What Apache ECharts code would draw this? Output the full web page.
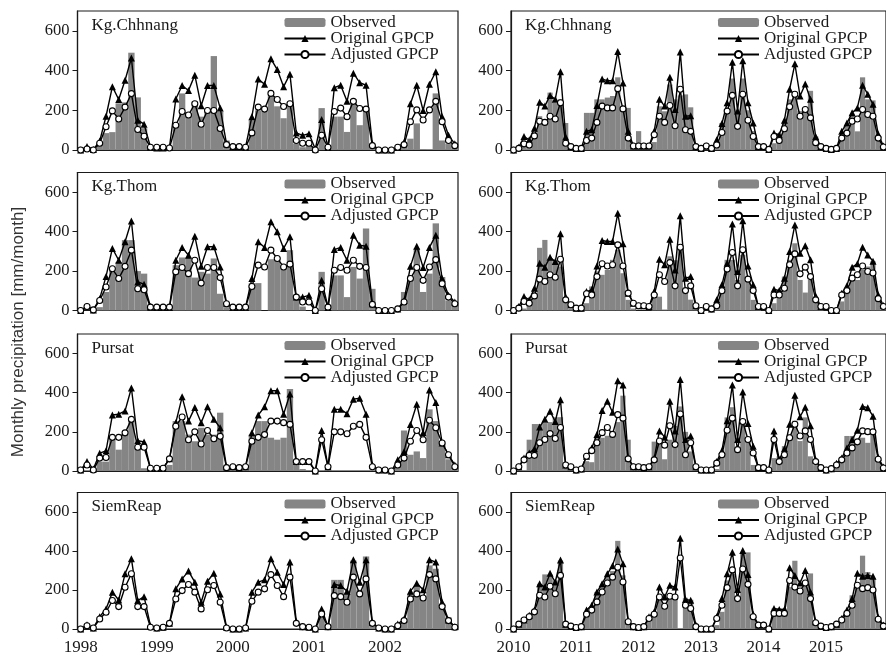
<!DOCTYPE html>
<html>
<head>
<meta charset="utf-8">
<script src="https://cdn.jsdelivr.net/npm/echarts@6/dist/echarts.min.js"></script>
<style>
  html, body { margin: 0; padding: 0; background: #ffffff; }
  #chart { width: 886px; height: 656px; }
</style>
</head>
<body>
<div id="chart"></div>
<script>
// ---- time axes: monthly categories ----
const yearsEarly = [1998, 1999, 2000, 2001, 2002];
const yearsLate = [2010, 2011, 2012, 2013, 2014, 2015];
const monthNumbers = ['01','02','03','04','05','06','07','08','09','10','11','12'];
const monthsEarly = yearsEarly.flatMap(y => monthNumbers.map(m => y + '-' + m));
const monthsLate = yearsLate.flatMap(y => monthNumbers.map(m => y + '-' + m));
const yTickValues = [0, 200, 400, 600];

const stationNames = ['Kg.Chhnang', 'Kg.Thom', 'Pursat', 'SiemReap'];
const seriesNames = ['Observed', 'Original GPCP', 'Adjusted GPCP'];

// ---- Kg.Chhnang (mm/month) ----
const chhnangObsEarly = [
  0, 0, 5, 30, 85, 90, 235, 240, 490, 265, 110, 5,
  0, 0, 5, 134, 285, 188, 245, 168, 194, 473, 194, 48,
  10, 5, 5, 150, 200, 194, 271, 220, 160, 220, 31, 14,
  20, 0, 211, 14, 168, 168, 91, 257, 125, 211, 14, 0,
  0, 0, 5, 20, 57, 134, 5, 0, 285, 48, 30, 10
];
const chhnangOrigEarly = [
  0, 18, 3, 45, 170, 319, 254, 351, 463, 150, 130, 15,
  10, 10, 15, 257, 325, 300, 377, 223, 325, 325, 211, 31,
  17, 17, 14, 168, 357, 331, 459, 405, 319, 382, 86, 74,
  82, 5, 154, 14, 314, 326, 245, 387, 339, 326, 31, 0,
  0, 0, 14, 39, 233, 326, 199, 331, 394, 168, 74, 31
];
const chhnangAdjEarly = [
  0, 5, 0, 34, 117, 197, 156, 216, 284, 103, 69, 14,
  14, 14, 10, 125, 194, 176, 233, 130, 199, 199, 108, 27,
  17, 17, 14, 86, 216, 206, 285, 254, 219, 233, 48, 34,
  34, 0, 74, 14, 194, 211, 168, 245, 209, 206, 22, 0,
  0, 0, 14, 27, 142, 202, 151, 202, 245, 142, 48, 22
];
const chhnangObsLate = [
  0, 0, 17, 34, 85, 170, 128, 289, 238, 255, 136, 17,
  0, 0, 187, 187, 255, 255, 264, 272, 366, 212, 212, 25,
  95, 35, 20, 40, 220, 195, 330, 255, 275, 280, 215, 10,
  0, 0, 0, 10, 136, 200, 360, 190, 360, 200, 95, 10,
  0, 0, 34, 70, 136, 255, 289, 196, 212, 298, 68, 10,
  0, 0, 0, 51, 119, 179, 94, 366, 255, 250, 60, 10
];
const chhnangOrigLate = [
  0, 14, 68, 51, 110, 241, 221, 275, 255, 394, 65, 17,
  8, 8, 94, 102, 224, 357, 349, 349, 496, 337, 94, 20,
  20, 20, 20, 95, 255, 221, 366, 204, 493, 170, 173, 17,
  8, 20, 8, 51, 133, 238, 442, 196, 450, 238, 136, 17,
  17, 3, 85, 77, 150, 306, 434, 272, 332, 255, 68, 17,
  8, 3, 8, 94, 136, 187, 212, 326, 281, 230, 80, 20
];
const chhnangAdjLate = [
  0, 8, 31, 25, 71, 145, 139, 170, 156, 238, 34, 17,
  8, 8, 48, 60, 139, 221, 212, 212, 309, 207, 60, 20,
  20, 20, 20, 77, 170, 139, 224, 122, 306, 102, 94, 17,
  8, 20, 8, 25, 88, 196, 275, 119, 281, 150, 68, 17,
  17, 3, 68, 48, 107, 218, 281, 170, 204, 162, 37, 17,
  8, 3, 8, 60, 85, 145, 156, 204, 179, 170, 60, 15
];

// ---- Kg.Thom ----
const thomObsEarly = [
  0, 0, 0, 17, 94, 204, 246, 357, 357, 200, 187, 0,
  0, 0, 0, 230, 269, 269, 167, 196, 187, 264, 85, 17,
  0, 0, 0, 139, 139, 0, 260, 255, 220, 306, 80, 20,
  0, 0, 196, 0, 178, 178, 68, 221, 162, 416, 110, 0,
  0, 0, 0, 94, 178, 315, 94, 187, 442, 170, 51, 30
];
const thomOrigEarly = [
  0, 22, 3, 60, 173, 315, 255, 349, 454, 145, 133, 20,
  17, 17, 17, 255, 320, 280, 377, 224, 323, 323, 221, 37,
  17, 17, 17, 162, 349, 320, 450, 400, 315, 374, 68, 68,
  77, 0, 153, 17, 309, 320, 255, 382, 331, 326, 34, 0,
  0, 0, 8, 51, 224, 326, 218, 320, 382, 162, 77, 43
];
const thomAdjEarly = [
  0, 20, 3, 51, 119, 212, 162, 224, 306, 110, 105, 17,
  17, 17, 17, 196, 218, 187, 255, 139, 218, 218, 167, 34,
  17, 17, 17, 122, 230, 221, 306, 264, 221, 235, 68, 43,
  43, 0, 110, 17, 204, 218, 204, 255, 224, 218, 31, 0,
  0, 0, 8, 43, 162, 218, 153, 221, 258, 136, 68, 34
];
const thomObsLate = [
  0, 0, 10, 37, 88, 318, 358, 260, 257, 223, 54, 10,
  0, 0, 37, 122, 198, 181, 206, 257, 308, 189, 54, 10,
  0, 0, 0, 70, 70, 5, 275, 255, 315, 90, 55, 10,
  0, 0, 0, 10, 122, 257, 257, 155, 282, 155, 54, 10,
  0, 0, 37, 71, 172, 257, 341, 155, 91, 155, 54, 10,
  0, 0, 0, 46, 96, 164, 155, 206, 223, 250, 50, 10
];
const thomOrigLate = [
  0, 20, 71, 54, 113, 240, 220, 270, 248, 389, 68, 29,
  12, 12, 96, 105, 226, 355, 350, 350, 493, 338, 88, 37,
  24, 24, 20, 96, 260, 232, 362, 206, 480, 164, 172, 24,
  0, 20, 8, 54, 130, 240, 439, 198, 455, 226, 130, 20,
  20, 0, 108, 101, 164, 299, 434, 291, 328, 257, 74, 20,
  20, 0, 0, 88, 125, 220, 237, 321, 282, 250, 80, 25
];
const thomAdjLate = [
  0, 12, 46, 37, 74, 159, 147, 181, 169, 260, 54, 29,
  12, 12, 85, 79, 172, 237, 226, 232, 333, 226, 88, 37,
  24, 24, 20, 79, 181, 147, 243, 125, 321, 101, 125, 24,
  0, 20, 8, 24, 100, 210, 294, 125, 308, 159, 101, 20,
  20, 0, 79, 79, 113, 232, 287, 186, 220, 172, 54, 20,
  20, 0, 0, 79, 101, 164, 181, 226, 198, 190, 60, 20
];

// ---- Pursat (no gauge record for 2001) ----
const pursatObsEarly = [
  0, 0, 0, 48, 48, 169, 109, 186, 255, 117, 14, 0,
  0, 0, 31, 255, 255, 186, 152, 221, 186, 186, 298, 20,
  0, 0, 0, 186, 255, 255, 170, 160, 170, 419, 31, 10,
  null, null, null, null, null, null, null, null, null, null, null, null,
  0, 0, 31, 207, 83, 100, 66, 315, 255, 143, 60, 10
];
const pursatOrigEarly = [
  5, 48, 10, 91, 103, 286, 290, 307, 424, 155, 148, 14,
  14, 14, 62, 247, 379, 255, 324, 247, 328, 264, 221, 22,
  22, 17, 22, 195, 286, 328, 410, 410, 290, 393, 48, 48,
  48, 0, 207, 22, 315, 315, 293, 367, 372, 290, 31, 5,
  5, 0, 57, 100, 238, 341, 195, 414, 350, 143, 83, 31
];
const pursatAdjEarly = [
  5, 31, 5, 66, 69, 172, 172, 195, 264, 121, 121, 14,
  14, 14, 62, 229, 276, 160, 200, 138, 207, 165, 177, 17,
  22, 17, 22, 152, 172, 186, 255, 255, 247, 238, 48, 48,
  48, 0, 160, 22, 200, 200, 190, 229, 238, 172, 22, 5,
  5, 0, 31, 66, 152, 207, 160, 259, 221, 143, 83, 22
];
const pursatObsLate = [
  0, 5, 0, 160, 240, 240, 245, 250, 275, 275, 20, 10,
  0, 0, 50, 45, 170, 170, 180, 200, 250, 385, 160, 10,
  0, 0, 0, 150, 160, 60, 160, 230, 330, 200, 100, 10,
  0, 0, 0, 10, 92, 274, 326, 109, 265, 170, 31, 10,
  0, 0, 66, 75, 127, 187, 257, 153, 274, 75, 30, 10,
  0, 0, 20, 66, 179, 179, 161, 170, 144, 200, 50, 10
];
const pursatOrigLate = [
  0, 22, 66, 92, 114, 225, 265, 305, 253, 364, 31, 22,
  5, 10, 75, 118, 187, 309, 357, 300, 461, 439, 66, 22,
  22, 17, 22, 66, 205, 173, 357, 205, 468, 161, 179, 22,
  5, 5, 5, 48, 104, 257, 439, 161, 404, 243, 127, 17,
  17, 5, 205, 57, 114, 239, 387, 277, 326, 231, 57, 17,
  5, 12, 40, 66, 118, 161, 208, 330, 323, 280, 70, 20
];
const pursatAdjLate = [
  0, 22, 57, 80, 80, 144, 161, 191, 166, 222, 31, 22,
  5, 10, 75, 104, 144, 196, 222, 187, 288, 270, 62, 22,
  22, 17, 22, 57, 153, 132, 231, 135, 291, 83, 144, 22,
  5, 5, 5, 40, 83, 208, 270, 109, 253, 161, 92, 17,
  17, 5, 161, 48, 83, 170, 239, 179, 205, 161, 48, 17,
  5, 12, 31, 57, 92, 118, 149, 205, 201, 200, 60, 15
];

// ---- SiemReap (gauge record starts in 2001) ----
const siemreapObsEarly = [
  null, null, null, null, null, null, null, null, null, null, null, null,
  null, null, null, null, null, null, null, null, null, null, null, null,
  null, null, null, null, null, null, null, null, null, null, null, null,
  0, 0, 94, 17, 252, 252, 180, 351, 201, 372, 26, 0,
  0, 0, 17, 43, 180, 223, 171, 326, 309, 129, 60, 10
];
const siemreapOrigEarly = [
  0, 22, 5, 63, 103, 189, 149, 283, 360, 146, 166, 17,
  5, 9, 29, 206, 257, 297, 240, 137, 245, 286, 180, 9,
  0, 0, 5, 189, 240, 252, 360, 291, 228, 343, 39, 12,
  9, 0, 103, 12, 228, 223, 194, 355, 240, 355, 34, 5,
  0, 0, 26, 51, 194, 235, 201, 355, 343, 137, 46, 12
];
const siemreapAdjEarly = [
  0, 17, 5, 51, 86, 146, 115, 214, 283, 115, 115, 9,
  5, 9, 29, 154, 197, 228, 189, 103, 201, 223, 137, 5,
  0, 0, 5, 142, 189, 206, 279, 223, 166, 266, 29, 12,
  9, 0, 77, 12, 171, 166, 137, 266, 180, 257, 29, 5,
  0, 0, 17, 43, 154, 180, 159, 279, 257, 115, 43, 9
];
const siemreapObsLate = [
  0, 0, 29, 63, 97, 232, 280, 280, 249, 351, 20, 5,
  0, 0, 88, 114, 190, 215, 266, 297, 452, 275, 29, 5,
  0, 0, 37, 71, 156, 122, 173, 164, null, 160, 150, 10,
  0, 0, 0, 20, 88, 249, 283, 164, 393, 393, 63, 10,
  0, 0, 105, 105, 105, 215, 350, 210, 220, 285, 30, 5,
  0, 0, 15, 37, 88, 173, 232, 376, 292, 260, 40, 10
];
const siemreapOrigLate = [
  0, 25, 46, 71, 97, 232, 215, 286, 241, 354, 25, 15,
  8, 12, 97, 122, 190, 232, 283, 325, 410, 334, 42, 12,
  8, 12, 63, 88, 215, 164, 224, 215, 466, 151, 147, 20,
  0, 0, 0, 63, 156, 283, 393, 202, 402, 280, 76, 20,
  20, 0, 105, 100, 100, 314, 275, 236, 300, 190, 37, 15,
  8, 12, 25, 54, 97, 156, 286, 270, 275, 270, 60, 20
];
const siemreapAdjLate = [
  0, 25, 46, 63, 88, 173, 164, 219, 181, 275, 25, 15,
  8, 12, 76, 97, 139, 190, 236, 266, 317, 241, 37, 12,
  8, 12, 54, 76, 164, 117, 168, 164, 364, 122, 105, 12,
  0, 0, 0, 54, 122, 212, 303, 156, 308, 229, 63, 20,
  20, 0, 80, 80, 80, 249, 215, 195, 236, 156, 32, 15,
  8, 12, 25, 46, 80, 122, 224, 207, 212, 200, 50, 15
];

// ---- panel layout ----
const serifFont = '"Liberation Serif", "Times New Roman", serif';
const inkColor = '#1a1a1a';
const rowTop = [11, 172.5, 334, 492.5];
const rowHeight = [139, 138, 137, 138];
const columns = [
  { left: 77.5, right: 428, months: monthsEarly },
  { left: 511, right: -17, months: monthsLate }
];

const panels = [
  { row: 0, col: 0, obs: chhnangObsEarly, orig: chhnangOrigEarly, adj: chhnangAdjEarly },
  { row: 0, col: 1, obs: chhnangObsLate, orig: chhnangOrigLate, adj: chhnangAdjLate },
  { row: 1, col: 0, obs: thomObsEarly, orig: thomOrigEarly, adj: thomAdjEarly },
  { row: 1, col: 1, obs: thomObsLate, orig: thomOrigLate, adj: thomAdjLate },
  { row: 2, col: 0, obs: pursatObsEarly, orig: pursatOrigEarly, adj: pursatAdjEarly },
  { row: 2, col: 1, obs: pursatObsLate, orig: pursatOrigLate, adj: pursatAdjLate },
  { row: 3, col: 0, obs: siemreapObsEarly, orig: siemreapOrigEarly, adj: siemreapAdjEarly },
  { row: 3, col: 1, obs: siemreapObsLate, orig: siemreapOrigLate, adj: siemreapAdjLate }
];

const grid = [], xAxis = [], yAxis = [], series = [], legend = [], title = [];

panels.forEach((p, i) => {
  const col = columns[p.col];
  const isBottom = p.row === 3;
  grid.push({
    left: col.left, right: col.right, top: rowTop[p.row], height: rowHeight[p.row],
    show: true, borderColor: inkColor, borderWidth: 1.2, backgroundColor: 'transparent'
  });
  xAxis.push({
    type: 'category', gridIndex: i, data: col.months, boundaryGap: true,
    axisLine: { show: true, lineStyle: { color: inkColor, width: 1.2 } },
    axisTick: { show: false },
    splitLine: { show: false },
    axisLabel: {
      show: isBottom,
      interval: idx => idx % 12 === 0,
      formatter: v => v.slice(0, 4),
      fontFamily: serifFont, fontSize: 17, color: inkColor, margin: 10
    }
  });
  yAxis.push({
    type: 'value', gridIndex: i, min: 0, max: 700, interval: 200,
    axisLine: { show: true, lineStyle: { color: inkColor, width: 1.2 } },
    axisTick: { show: true, length: 5, lineStyle: { color: inkColor, width: 1 }, customValues: yTickValues },
    splitLine: { show: false },
    axisLabel: {
      customValues: yTickValues,
      fontFamily: serifFont, fontSize: 16.5, color: inkColor, margin: 8
    }
  });
  series.push({
    name: seriesNames[0], type: 'bar', xAxisIndex: i, yAxisIndex: i,
    data: p.obs, barCategoryGap: '0%', barGap: '0%',
    itemStyle: { color: '#858585' }, silent: true
  });
  series.push({
    name: seriesNames[1], type: 'line', xAxisIndex: i, yAxisIndex: i,
    data: p.orig, symbol: 'triangle', symbolSize: 7, showAllSymbol: true,
    lineStyle: { color: '#000', width: 1.4 },
    itemStyle: { color: '#000' }, silent: true
  });
  series.push({
    name: seriesNames[2], type: 'line', xAxisIndex: i, yAxisIndex: i,
    data: p.adj, symbol: 'circle', symbolSize: 6, showAllSymbol: true,
    lineStyle: { color: '#000', width: 1.4 },
    itemStyle: { color: '#fff', borderColor: '#000', borderWidth: 1.1 }, silent: true
  });
  // legend rows sit tightly stacked, about 15.5px apart
  legend.push({
    orient: 'vertical', left: col.left + 206, top: rowTop[p.row] + 3,
    padding: 0, itemGap: -1, itemWidth: 41, itemHeight: 9,
    selectedMode: false, data: seriesNames,
    textStyle: { fontFamily: serifFont, fontSize: 17, color: inkColor }
  });
  title.push({
    text: stationNames[p.row], left: col.left + 14, top: rowTop[p.row] + 6, padding: 0,
    textStyle: { fontFamily: serifFont, fontSize: 17, fontWeight: 'normal', color: inkColor }
  });
});

const chart = echarts.init(document.getElementById('chart'), null, { renderer: 'canvas' });
chart.setOption({
  animation: false,
  backgroundColor: '#ffffff',
  title, legend, grid, xAxis, yAxis, series,
  graphic: [{
    type: 'text', x: 18, y: 332, rotation: Math.PI / 2,
    style: {
      text: 'Monthly precipitation [mm/month]',
      font: '17px "Liberation Sans", Arial, sans-serif',
      fill: '#333', align: 'center', verticalAlign: 'middle'
    }
  }]
});
</script>
</body>
</html>
